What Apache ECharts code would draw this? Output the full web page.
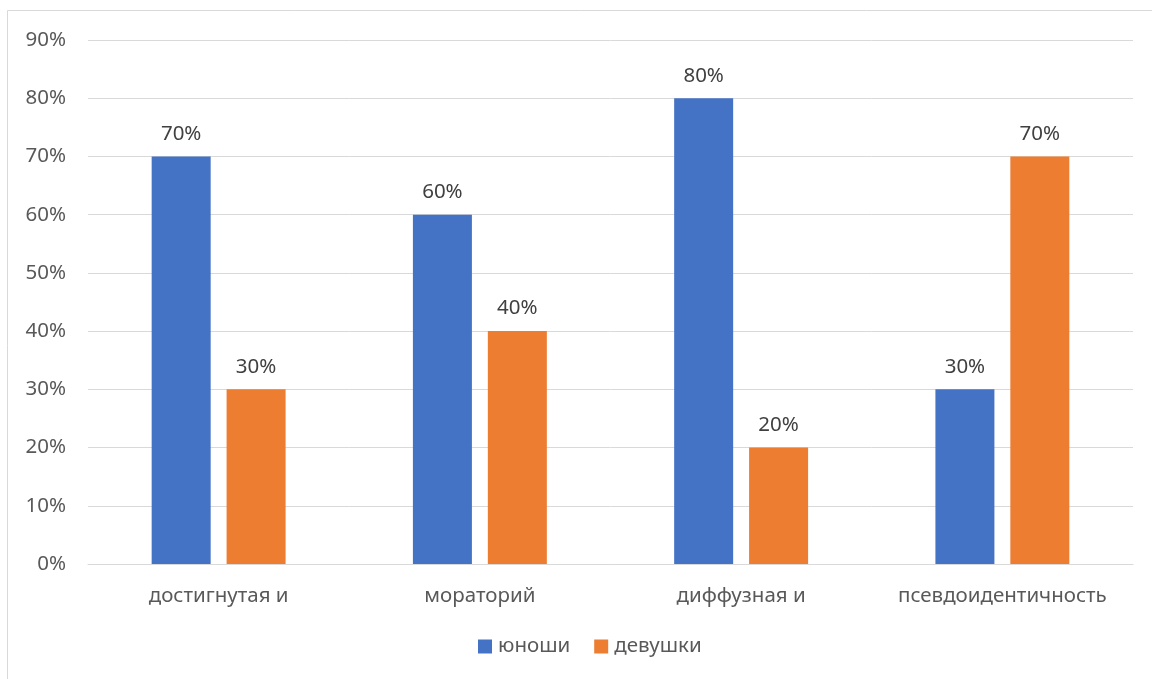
<!DOCTYPE html>
<html>
<head>
<meta charset="utf-8">
<script src="https://cdn.jsdelivr.net/npm/echarts@6/dist/echarts.min.js"></script>
<style>
html,body{margin:0;padding:0;background:#fff;}
#c{width:1152px;height:679px;}
</style>
</head>
<body>
<div id="c"></div>
<script>
const categories = ['достигнутая и', 'мораторий', 'диффузная и', 'псевдоидентичность'];
const seriesNames = ['юноши', 'девушки'];
const boys = [70, 60, 80, 30];
const girls = [30, 40, 20, 70];
const yTicks = [0, 10, 20, 30, 40, 50, 60, 70, 80, 90];

const chart = echarts.init(document.getElementById('c'));
const font = '"Noto Sans", "Liberation Sans", sans-serif';
const fs = 20.5;
const labelStyle = {show: true, position: 'top', distance: 12, formatter: p => p.value + '%', color: '#404040', fontSize: fs, fontFamily: font};
chart.setOption({
  animation: false,
  textStyle: {fontFamily: font},
  graphic: [{type: 'rect', shape: {x: 7.5, y: 10.5, width: 1200, height: 700}, style: {fill: 'none', stroke: '#d9d9d9', lineWidth: 1}, silent: true}],
  grid: {left: 88, right: 19, top: 40, bottom: 115, containLabel: false},
  legend: {
    bottom: 17, left: 473, itemWidth: 14, itemHeight: 14, itemGap: 24,
    icon: 'rect',
    textStyle: {color: '#595959', fontSize: fs, fontFamily: font, padding: [0, 0, 0, 1]},
    data: seriesNames
  },
  xAxis: {
    type: 'category', data: categories,
    axisLine: {show: true, lineStyle: {color: '#d9d9d9', width: 1}},
    axisTick: {show: false},
    axisLabel: {color: '#595959', fontSize: fs, margin: 22, fontFamily: font, interval: 0, hideOverlap: false}
  },
  yAxis: {
    type: 'value', min: 0, max: 90, interval: 10,
    axisLine: {show: false}, axisTick: {show: false},
    axisLabel: {color: '#595959', fontSize: fs, margin: 22, formatter: v => v + '%', fontFamily: font},
    splitLine: {lineStyle: {color: '#d9d9d9', width: 1}}
  },
  series: [
    {name: seriesNames[0], type: 'bar', data: boys, barWidth: 59, barGap: '27%', itemStyle: {color: '#4472c4'}, label: labelStyle},
    {name: seriesNames[1], type: 'bar', data: girls, barWidth: 59, barGap: '27%', itemStyle: {color: '#ed7d31'}, label: labelStyle}
  ]
});
</script>
</body>
</html>
